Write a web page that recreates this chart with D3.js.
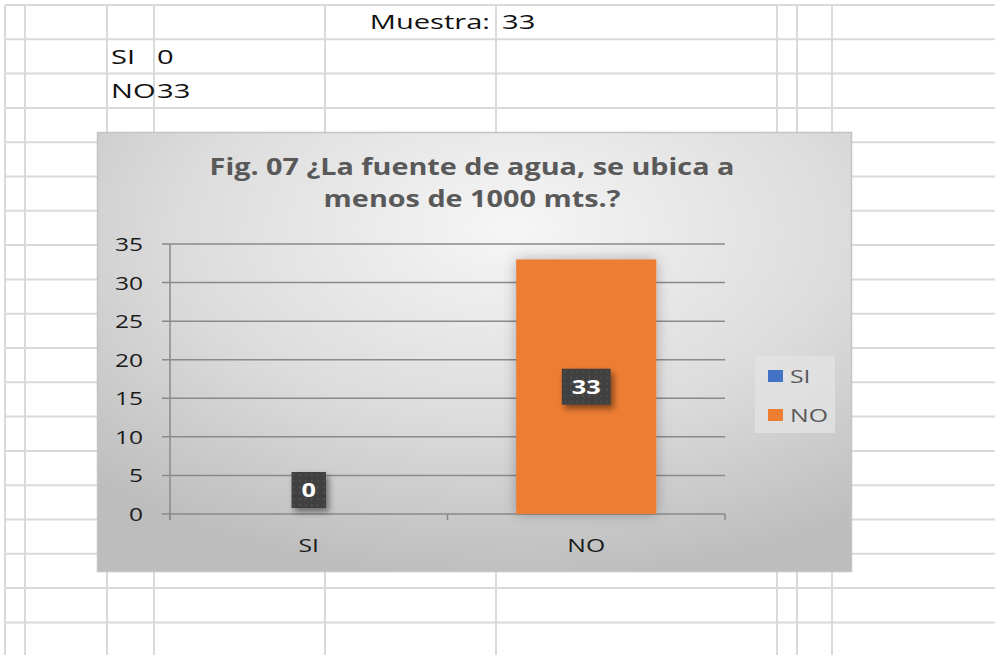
<!DOCTYPE html>
<html><head><meta charset="utf-8">
<script src="https://cdn.jsdelivr.net/npm/d3@7"></script>
<style>body{margin:0;background:#fff}svg{display:block}</style>
</head><body>
<script>
// ---- data ----
const categories = ["SI", "NO"];
const values = [0, 33];
const seriesColors = ["#4472C4", "#ED7D31"];
const yTicks = [0, 5, 10, 15, 20, 25, 30, 35];
const titleLines = ["Fig. 07 ¿La fuente de agua, se ubica a", "menos de 1000 mts.?"];
const sampleLabel = "Muestra:";
const sampleSize = 33;

// ---- layout ----
const W = 995, H = 655;
const FONT = "'Open Sans', 'Noto Sans', sans-serif";
const svg = d3.select("body").append("svg").attr("width", W).attr("height", H);
const defs = svg.append("defs");

// horizontally stretched text helper (the reference rendering is wide)
function stretch(sel, sx) {
  sel.each(function () {
    const t = d3.select(this);
    const x = +t.attr("x") || 0, y = +t.attr("y") || 0;
    t.attr("x", 0).attr("y", 0).attr("transform", `translate(${x},${y}) scale(${sx},1)`);
  });
  return sel;
}

// spreadsheet grid
const colX = [5, 25, 107, 154, 325, 496, 777, 797, 832];
const rowY = d3.range(20).map(i => 5 + i * 34.3);
const grid = svg.append("g").attr("stroke", "#dadada").attr("stroke-width", 2);
grid.selectAll("line.h").data(rowY).join("line").attr("class", "h")
  .attr("x1", 5).attr("x2", W).attr("y1", d => d).attr("y2", d => d);
grid.selectAll("line.v").data(colX).join("line").attr("class", "v")
  .attr("x1", d => d).attr("x2", d => d).attr("y1", 5).attr("y2", H);

// spreadsheet cells
const cellText = svg.append("g").attr("font-family", FONT).attr("font-size", 20.5).attr("fill", "#111");
const cells = [];
cells.push(cellText.append("text").attr("x", 490).attr("y", 29).attr("text-anchor", "end").text(sampleLabel));
cells.push(cellText.append("text").attr("x", 502).attr("y", 29).text(sampleSize));
categories.forEach((c, i) => {
  cells.push(cellText.append("text").attr("x", 111).attr("y", 64 + i * 34.3).text(c));
  cells.push(cellText.append("text").attr("x", 157).attr("y", 64 + i * 34.3).text(values[i]));
});
cells.forEach(s => stretch(s, 1.42));

// ---- chart ----
const cx = 97, cy = 132, cw = 755, ch = 440;
const bg = defs.append("radialGradient").attr("id", "bg")
  .attr("cx", "55%").attr("cy", "22%").attr("r", "80%").attr("fx", "55%").attr("fy", "22%");
bg.append("stop").attr("offset", "0%").attr("stop-color", "#f6f6f6");
bg.append("stop").attr("offset", "55%").attr("stop-color", "#dcdcdc");
bg.append("stop").attr("offset", "100%").attr("stop-color", "#bdbdbd");

const glow = defs.append("filter").attr("id", "glow").attr("x", "-30%").attr("y", "-30%").attr("width", "160%").attr("height", "160%");
glow.append("feDropShadow").attr("dx", 0).attr("dy", 0).attr("stdDeviation", 7)
  .attr("flood-color", "#000").attr("flood-opacity", 0.28);
const lshadow = defs.append("filter").attr("id", "lshadow").attr("x", "-40%").attr("y", "-40%").attr("width", "200%").attr("height", "200%");
lshadow.append("feDropShadow").attr("dx", 3).attr("dy", 4).attr("stdDeviation", 3)
  .attr("flood-color", "#000").attr("flood-opacity", 0.45);
const dots = defs.append("pattern").attr("id", "dots").attr("width", 6).attr("height", 6)
  .attr("patternUnits", "userSpaceOnUse");
dots.append("rect").attr("width", 6).attr("height", 6).attr("fill", "#3f3f3f");
dots.append("circle").attr("cx", 3).attr("cy", 3).attr("r", 0.9).attr("fill", "#575757");

const chart = svg.append("g").attr("transform", `translate(${cx},${cy})`);
chart.append("rect").attr("x", 0.5).attr("y", 0.5).attr("width", cw - 1).attr("height", ch - 1)
  .attr("fill", "url(#bg)").attr("stroke", "#c4c4c4").attr("stroke-width", 1.5);

// title
const tg = chart.append("g").attr("font-family", FONT).attr("font-weight", 700)
  .attr("font-size", 22.5).attr("fill", "#595959").attr("text-anchor", "middle");
stretch(tg.selectAll("text").data(titleLines).join("text")
  .attr("x", 375).attr("y", (d, i) => 43 + i * 32).text(d => d), 1.28);

// plot area (chart-local coords)
const px0 = 73, px1 = 628, py0 = 112, py1 = 382;
const x = d3.scaleBand().domain(categories).range([px0, px1]).paddingInner(0.495).paddingOuter(0.2475);
const y = d3.scaleLinear().domain([0, 35]).range([py1, py0]);

// gridlines
chart.append("g").selectAll("line").data(yTicks).join("line")
  .attr("x1", px0 - 8).attr("x2", px1).attr("y1", d => y(d)).attr("y2", d => y(d))
  .attr("stroke", "#8a8a8a").attr("stroke-width", 1.5);
// y axis line
chart.append("line").attr("x1", px0).attr("x2", px0).attr("y1", py0).attr("y2", py1 + 6)
  .attr("stroke", "#8a8a8a").attr("stroke-width", 1.5);
// x axis ticks
const xTickPos = [px0, (px0 + px1) / 2, px1];
chart.append("g").selectAll("line").data(xTickPos).join("line")
  .attr("x1", d => d).attr("x2", d => d).attr("y1", py1).attr("y2", py1 + 6)
  .attr("stroke", "#8a8a8a").attr("stroke-width", 1.5);

// y tick labels
stretch(chart.append("g").selectAll("text").data(yTicks).join("text")
  .attr("x", px0 - 27).attr("y", d => y(d) + 7).attr("text-anchor", "end")
  .attr("font-family", FONT).attr("font-size", 19).attr("fill", "#1a1a1a").text(d => d), 1.29);

// x labels
stretch(chart.append("g").selectAll("text").data(categories).join("text")
  .attr("x", d => x(d) + x.bandwidth() / 2).attr("y", 420).attr("text-anchor", "middle")
  .attr("font-family", FONT).attr("font-size", 19).attr("fill", "#1a1a1a").text(d => d), 1.3);

// bars
chart.append("g").selectAll("rect").data(values).join("rect")
  .attr("x", (d, i) => x(categories[i])).attr("width", x.bandwidth())
  .attr("y", d => y(d)).attr("height", d => y(0) - y(d))
  .attr("fill", (d, i) => seriesColors[i]).attr("filter", "url(#glow)");

// data labels
const lab = chart.append("g").selectAll("g").data(values).join("g")
  .attr("transform", (d, i) => {
    const cxl = x(categories[i]) + x.bandwidth() / 2;
    const cyl = Math.min(y(d / 2), y(0) - 24);
    return `translate(${cxl},${cyl})`;
  });
const labRect = lab.append("rect").attr("y", -18).attr("height", 36)
  .attr("fill", "url(#dots)").attr("filter", "url(#lshadow)");
const labText = lab.append("text").attr("text-anchor", "middle").attr("y", 7)
  .attr("font-family", FONT).attr("font-weight", 700).attr("font-size", 19).attr("fill", "#fff")
  .text(d => d);
stretch(labText, 1.33);
labText.each(function () {
  const w = this.getBBox().width * 1.33 + 20;
  d3.select(this.parentNode).select("rect").attr("x", -w / 2).attr("width", w);
});

// legend
const lg = chart.append("g").attr("transform", "translate(658,224)");
lg.append("rect").attr("width", 80).attr("height", 77).attr("fill", "#e2e2e2").attr("opacity", 0.8);
const li = lg.selectAll("g").data(categories).join("g")
  .attr("transform", (d, i) => `translate(13,${14 + i * 39})`);
li.append("rect").attr("width", 15).attr("height", 12).attr("fill", (d, i) => seriesColors[i]);
stretch(li.append("text").attr("x", 22).attr("y", 12.5).attr("font-family", FONT).attr("font-size", 18)
  .attr("fill", "#595959").text(d => d), 1.38);
</script>
</body></html>
